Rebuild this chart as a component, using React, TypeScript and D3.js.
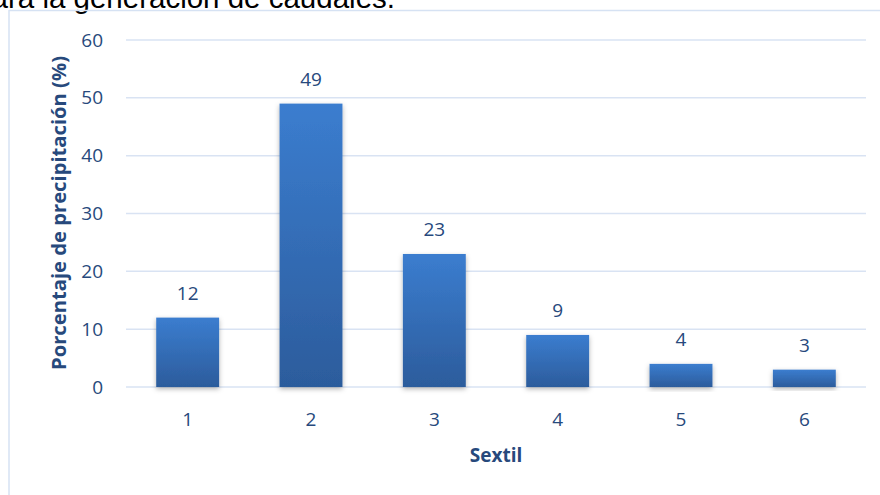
import React from "react";
import * as d3 from "d3";

const categories = ["1", "2", "3", "4", "5", "6"];
const values = [12, 49, 23, 9, 4, 3];
const yTicks = [0, 10, 20, 30, 40, 50, 60];
const yTitle = "Porcentaje de precipitación (%)";
const xTitle = "Sextil";
const caption = "para la generación de caudales.";

const W = 880;
const H = 495;
const margin = { left: 126, right: 14, top: 40, bottom: 108 };

export default function App() {
  const x = d3
    .scaleBand<string>()
    .domain(categories)
    .range([margin.left, W - margin.right])
    .paddingInner(0.49)
    .paddingOuter(0.245);
  const y = d3.scaleLinear().domain([0, 60]).range([H - margin.bottom, margin.top]);
  const textColor = "#27497c";
  const font = "'Open Sans', sans-serif";

  return (
    <div style={{ position: "fixed", left: 0, top: 0 }}>
      <svg width={W} height={H} style={{ display: "block", background: "#fff" }}>
        <defs>
          <linearGradient id="barGrad" x1="0" y1="0" x2="0" y2="1">
            <stop offset="0%" stopColor="#3b7dcf" />
            <stop offset="100%" stopColor="#2c5c9c" />
          </linearGradient>
          <filter id="shadow" x="-20%" y="-20%" width="140%" height="140%">
            <feDropShadow dx="0" dy="2" stdDeviation="2.5" floodColor="#000" floodOpacity="0.3" />
          </filter>
        </defs>
        <text
          x={395}
          y={8}
          textAnchor="end"
          fontFamily="'Liberation Sans', Arial, sans-serif"
          fontSize={29.5}
          fill="#000"
        >
          {caption}
        </text>
        <line x1={9} x2={W} y1={10.5} y2={10.5} stroke="#d6e2f3" strokeWidth={1.5} />
        <line x1={9} x2={9} y1={10} y2={H} stroke="#d6e2f3" strokeWidth={1.5} />
        {yTicks.map((t) => (
          <g key={t}>
            <line
              x1={margin.left}
              x2={W - margin.right}
              y1={y(t)}
              y2={y(t)}
              stroke="#d9e3f3"
              strokeWidth={1.5}
            />
            <text
              x={103}
              y={y(t)}
              dy="0.35em"
              textAnchor="end"
              fontFamily={font}
              fontSize={19}
              fill={textColor}
            >
              {t}
            </text>
          </g>
        ))}
        {categories.map((c, i) => (
          <g key={c}>
            <rect
              x={x(c)}
              y={y(values[i])}
              width={x.bandwidth()}
              height={y(0) - y(values[i])}
              fill="url(#barGrad)"
              filter="url(#shadow)"
            />
            <text
              x={(x(c) as number) + x.bandwidth() / 2}
              y={y(values[i]) - 18}
              textAnchor="middle"
              fontFamily={font}
              fontSize={19}
              fill={textColor}
            >
              {values[i]}
            </text>
            <text
              x={(x(c) as number) + x.bandwidth() / 2}
              y={y(0) + 39}
              textAnchor="middle"
              fontFamily={font}
              fontSize={19}
              fill={textColor}
            >
              {c}
            </text>
          </g>
        ))}
        <text
          x={496}
          y={462}
          textAnchor="middle"
          fontFamily={font}
          fontWeight="bold"
          fontSize={19}
          fill={textColor}
        >
          {xTitle}
        </text>
        <text
          transform={`translate(66, 213) rotate(-90)`}
          textAnchor="middle"
          fontFamily={font}
          fontWeight="bold"
          fontSize={19}
          textLength={314}
          lengthAdjust="spacingAndGlyphs"
          fill={textColor}
        >
          {yTitle}
        </text>
      </svg>
    </div>
  );
}
